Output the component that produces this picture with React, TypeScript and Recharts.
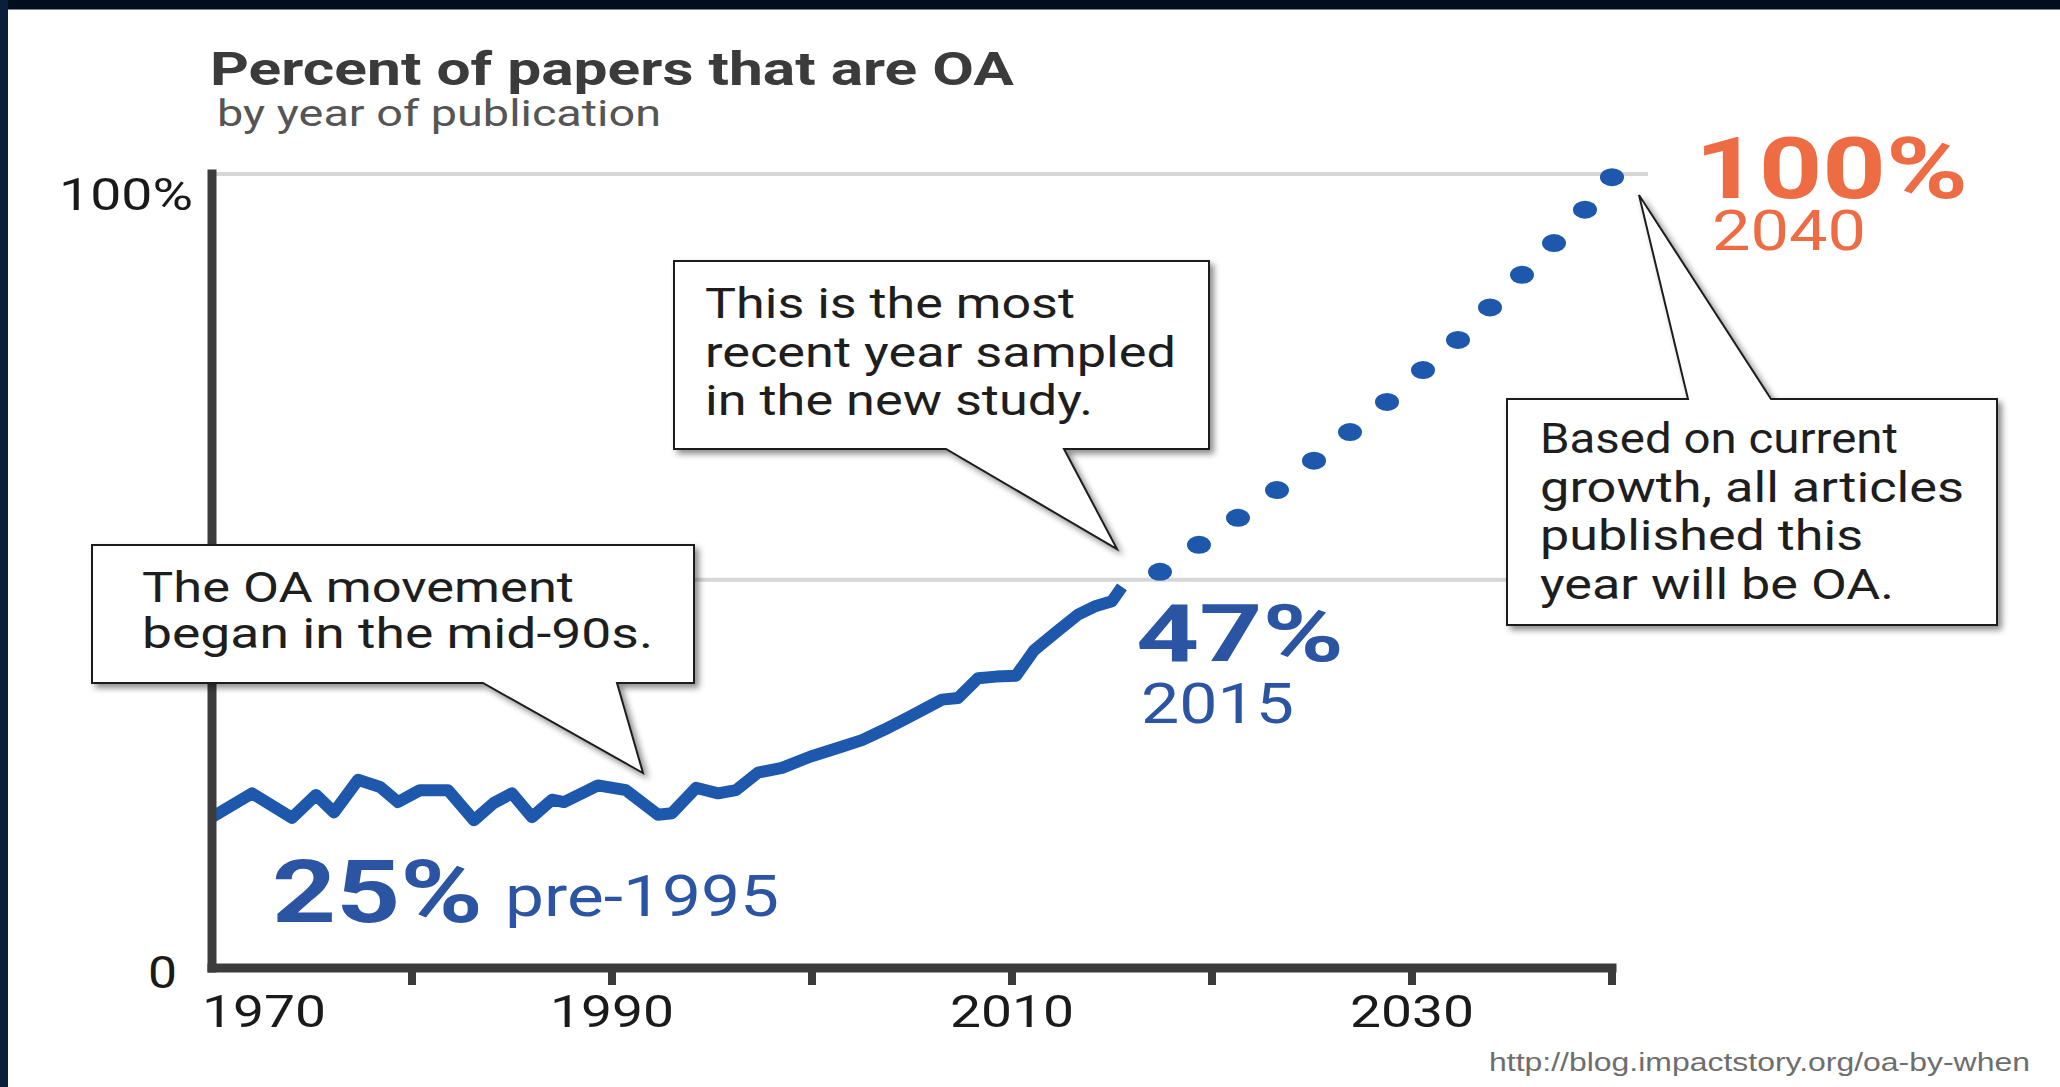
import React from 'react';
import { ComposedChart, Line, XAxis, YAxis, ReferenceLine } from 'recharts';

// Observed share of OA papers (solid line), by year of publication
const years = [1970, 1972, 1974, 1975.2, 1976.1, 1977.3, 1978.4, 1979.3, 1980.4, 1981.8, 1983.1, 1984.1, 1985, 1986, 1987, 1987.6, 1989.3, 1990.7, 1992.3, 1993, 1994.2, 1995.3, 1996.2, 1997.3, 1998.5, 1999.9, 2001.4, 2002.5, 2003.6, 2004.7, 2005.6, 2006.5, 2007.3, 2008.3, 2009.2, 2010.2, 2011.1, 2012.3, 2013.3, 2014.2, 2015, 2015.5];
const oaPct = [19.0, 22.0, 18.9, 21.8, 19.6, 23.7, 22.8, 20.9, 22.4, 22.4, 18.6, 20.8, 22.0, 19.0, 21.2, 20.9, 23.0, 22.4, 19.3, 19.5, 22.7, 22.0, 22.4, 24.6, 25.2, 26.6, 27.8, 28.7, 30.0, 31.4, 32.6, 33.8, 34.0, 36.5, 36.7, 36.8, 40.0, 42.5, 44.5, 45.6, 46.2, 48.0];

// Projection (dotted) toward 100% in 2040
const projYears = [2017.4, 2019.35, 2021.3, 2023.25, 2025.1, 2026.9, 2028.75, 2030.55, 2032.3, 2033.9, 2035.5, 2037.1, 2038.65, 2040];
const projPct = [49.9, 53.3, 56.7, 60.2, 63.9, 67.5, 71.3, 75.3, 79.1, 83.2, 87.3, 91.3, 95.5, 99.6];

// Axis ticks and labels
const xTicks = [1970, 1980, 1990, 2000, 2010, 2020, 2030, 2040];
const xLabelled = [1970, 1990, 2010, 2030];
const yTicks = [0, 100];
const yTickLabels = ['0', '100%'];

// Reference lines
const topLine = 100;
const latestLine = 48.9;

const solidData = years.map((y, i) => ({ year: y, pct: oaPct[i] }));
const projData = projYears.map((y, i) => ({ year: y, pct: projPct[i] }));

const BLUE = '#1e58ad';
const TEXT_BLUE = '#2b55a3';
const ORANGE = '#ee6c44';
const AXIS = '#3c3c3c';
const FONT = 'Roboto, "Noto Sans", sans-serif';

const XTick = (props: any) => {
  const { x, y, payload } = props;
  const v = payload.value;
  const showLabel = xLabelled.includes(v);
  return (
    <g>
      {v !== 1970 && <rect x={x - 4} y={y} width={8} height={17} fill={AXIS} />}
      {showLabel && (
        <text
          x={v === 1970 ? x - 10 : x}
          y={y + 59}
          textAnchor={v === 1970 ? 'start' : 'middle'}
          fontFamily={FONT}
          fontSize={44}
          fill="#1a1a1a"
          textLength={124}
          lengthAdjust="spacingAndGlyphs"
        >
          {String(v)}
        </text>
      )}
    </g>
  );
};

const YTick = (props: any) => {
  const { x, y, payload } = props;
  const v = payload.value;
  const idx = yTicks.indexOf(v);
  const label = yTickLabels[idx];
  const isTop = v === 100;
  return (
    <text
      x={isTop ? x - 19 : x - 35}
      y={isTop ? y + 36 : y + 20}
      textAnchor="end"
      fontFamily={FONT}
      fontSize={44}
      fill="#1a1a1a"
      textLength={isTop ? 134 : 29}
      lengthAdjust="spacingAndGlyphs"
    >
      {label}
    </text>
  );
};

const ProjDot = (props: any) => {
  const { cx, cy } = props;
  if (cx == null || cy == null) return null;
  return <ellipse cx={cx} cy={cy} rx={12} ry={9} fill={BLUE} />;
};

const T = (p: any) => {
  const { x, y, w, size, weight, fill, family, children, anchor } = p;
  return (
    <text
      x={x}
      y={y}
      fontFamily={family || FONT}
      fontSize={size}
      fontWeight={weight || 400}
      fill={fill}
      textLength={w}
      lengthAdjust="spacingAndGlyphs"
      textAnchor={anchor || 'start'}
    >
      {children}
    </text>
  );
};

export default function App() {
  return (
    <div style={{ position: 'absolute', left: 0, top: 0, width: 2060, height: 1087, background: '#ffffff', overflow: 'hidden' }}>
      <ComposedChart
        width={2060}
        height={1087}
        margin={{ top: 174, right: 448, bottom: 79, left: 152 }}
      >
        <XAxis
          type="number"
          dataKey="year"
          domain={[1970, 2040]}
          ticks={xTicks}
          height={40}
          tickSize={0}
          tickMargin={0}
          tickLine={false}
          axisLine={{ stroke: AXIS, strokeWidth: 9, strokeLinecap: 'square' }}
          tick={<XTick />}
          interval={0}
        />
        <YAxis
          type="number"
          domain={[0, 100]}
          ticks={yTicks}
          width={60}
          tickSize={0}
          tickMargin={0}
          tickLine={false}
          axisLine={{ stroke: AXIS, strokeWidth: 9, strokeLinecap: 'square' }}
          tick={<YTick />}
          interval={0}
        />
        <ReferenceLine
          segment={[{ x: 1970, y: topLine }, { x: 2041.8, y: topLine }]}
          stroke="#d6d6d6"
          strokeWidth={4}
          ifOverflow="visible"
        />
        <ReferenceLine
          segment={[{ x: 1970, y: latestLine }, { x: 2034.7, y: latestLine }]}
          stroke="#d6d6d6"
          strokeWidth={4}
          ifOverflow="visible"
        />
        <Line
          data={solidData}
          dataKey="pct"
          type="linear"
          stroke={BLUE}
          strokeWidth={12}
          strokeLinejoin="round"
          dot={false}
          activeDot={false}
          isAnimationActive={false}
        />
        <Line
          data={projData}
          dataKey="pct"
          type="linear"
          stroke="none"
          dot={<ProjDot />}
          activeDot={false}
          isAnimationActive={false}
        />
      </ComposedChart>

      <svg
        width={2060}
        height={1087}
        style={{ position: 'absolute', left: 0, top: 0, pointerEvents: 'none' }}
      >
        <defs>
          <filter id="sh" x="-10%" y="-10%" width="130%" height="140%">
            <feDropShadow dx="4" dy="4" stdDeviation="3" floodColor="#000" floodOpacity="0.45" />
          </filter>
        </defs>

        {/* frame */}
        <rect x={0} y={0} width={2060} height={9} fill="#020d1e" />
        <rect x={0} y={9} width={2060} height={1} fill="#7a8290" />
        <rect x={0} y={0} width={8} height={1087} fill="#0b1f3d" />

        {/* title */}
        <T x={210} y={85} w={804} size={46} weight={700} fill="#3b3b3b">Percent of papers that are OA</T>
        <T x={217} y={126} w={444} size={36} fill="#555555">by year of publication</T>

        {/* callout 1 */}
        <path
          d="M92,545 H694 V683 H617 L643,773 L483,683 H92 Z"
          fill="#ffffff"
          stroke="#1e1e1e"
          strokeWidth={2}
          filter="url(#sh)"
        />
        <T x={142} y={602} w={432} size={42} fill="#1e1e1e">The OA movement</T>
        <T x={142} y={648} w={511} size={42} fill="#1e1e1e">began in the mid-90s.</T>

        {/* callout 2 */}
        <path
          d="M674,261 H1209 V449 H1064 L1117,549 L946,449 H674 Z"
          fill="#ffffff"
          stroke="#1e1e1e"
          strokeWidth={2}
          filter="url(#sh)"
        />
        <T x={705} y={318} w={370} size={42} fill="#1e1e1e">This is the most</T>
        <T x={705} y={367} w={471} size={42} fill="#1e1e1e">recent year sampled</T>
        <T x={705} y={415} w={388} size={42} fill="#1e1e1e">in the new study.</T>

        {/* callout 3 */}
        <path
          d="M1507,399 H1688 L1639,195 L1771,399 H1997 V625 H1507 Z"
          fill="#ffffff"
          stroke="#1e1e1e"
          strokeWidth={2}
          filter="url(#sh)"
        />
        <T x={1540} y={453} w={358} size={42} fill="#1e1e1e">Based on current</T>
        <T x={1540} y={502} w={424} size={42} fill="#1e1e1e">growth, all articles</T>
        <T x={1540} y={550} w={323} size={42} fill="#1e1e1e">published this</T>
        <T x={1540} y={599} w={354} size={42} fill="#1e1e1e">year will be OA.</T>

        {/* value labels */}
        <T x={272} y={922} w={211} size={88} weight={700} fill={TEXT_BLUE}>25%</T>
        <T x={505} y={916} w={274} size={58} fill={TEXT_BLUE}>pre-1995</T>
        <T x={1136} y={661} w={208} size={80} weight={700} fill={TEXT_BLUE}>47%</T>
        <T x={1141} y={723} w={153} size={55} fill={TEXT_BLUE}>2015</T>
        <T x={1695} y={198} w={273} size={85} weight={700} fill={ORANGE}>100%</T>
        <T x={1712} y={250} w={154} size={56} fill={ORANGE}>2040</T>

        {/* source */}
        <T x={1489} y={1071} w={541} size={26} fill="#6e6e6e" family='"Liberation Sans", Arial, sans-serif'>http://blog.impactstory.org/oa-by-when</T>
      </svg>
    </div>
  );
}
